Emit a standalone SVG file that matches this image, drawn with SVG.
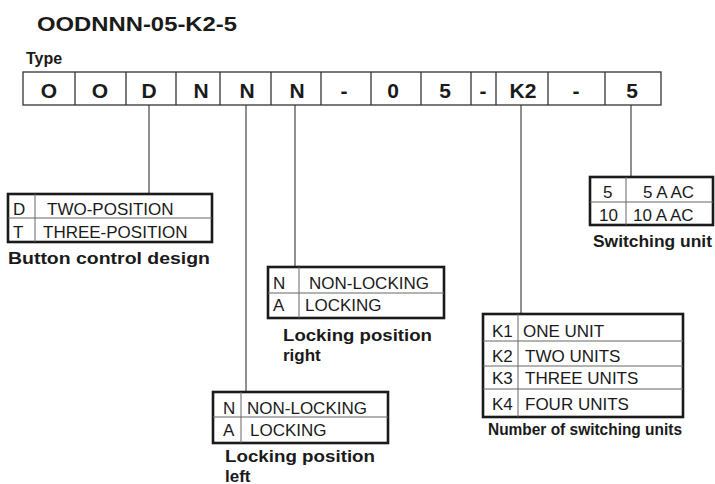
<svg xmlns="http://www.w3.org/2000/svg" width="715" height="484" viewBox="0 0 715 484">
<style>
text{font-family:"Liberation Sans",Arial,sans-serif;fill:#1a1a1a}
.t{font-size:17px}
.b{font-weight:bold}
.code{font-size:21px;font-weight:bold;text-anchor:middle}
.cap{font-size:17px;font-weight:bold}
.outer{fill:#fff;stroke:#1a1a1a;stroke-width:2.6}
.inner{stroke:#666;stroke-width:1;fill:none}
.cell{fill:#fff;stroke:#333;stroke-width:1.3}
.conn{stroke:#333;stroke-width:1.1;fill:none}
</style>
<rect width="715" height="484" fill="#fff"/>
<g id="title"><text x="37" y="31" class="b" font-size="21" textLength="200" lengthAdjust="spacingAndGlyphs">OODNNN-05-K2-5</text></g>
<g id="type-label"><text x="26" y="64" class="b" font-size="16">Type</text></g>
<g id="connectors">
<line class="conn" x1="149" y1="105" x2="149" y2="194"/>
<line class="conn" x1="246" y1="105" x2="246" y2="392"/>
<line class="conn" x1="295" y1="105" x2="295" y2="267"/>
<line class="conn" x1="521" y1="105" x2="521" y2="314"/>
<line class="conn" x1="631" y1="105" x2="631" y2="177"/>
</g>
<g id="code-row">
<rect class="cell" x="23" y="72" width="638" height="33"/>
<path class="cell" d="M75 72V105M126 72V105M176 72V105M220 72V105M271 72V105M321 72V105M371 72V105M421 72V105M471 72V105M496 72V105M548 72V105M605 72V105"/>
<text class="code" x="49" y="98">O</text>
<text class="code" x="100" y="98">O</text>
<text class="code" x="149" y="98">D</text>
<text class="code" x="201" y="98">N</text>
<text class="code" x="247" y="98">N</text>
<text class="code" x="297" y="98">N</text>
<text class="code" x="344" y="98">-</text>
<text class="code" x="393" y="98">0</text>
<text class="code" x="445" y="98">5</text>
<text class="code" x="483" y="98">-</text>
<text class="code" x="523" y="98">K2</text>
<text class="code" x="576" y="98">-</text>
<text class="code" x="632" y="98">5</text>
</g>
<g id="button-control-design">
<rect class="outer" x="8" y="194" width="204" height="48"/>
<path class="inner" d="M8 218H212M35 194V242"/>
<text class="t" x="13" y="215">D</text>
<text class="t" x="47" y="215">TWO-POSITION</text>
<text class="t" x="13" y="238">T</text>
<text class="t" x="43" y="238">THREE-POSITION</text>
<text class="cap" x="8" y="264" textLength="202" lengthAdjust="spacingAndGlyphs">Button control design</text>
</g>
<g id="locking-right">
<rect class="outer" x="268" y="267" width="176" height="51"/>
<path class="inner" d="M268 293H444M299 267V318"/>
<text class="t" x="273" y="289">N</text>
<text class="t" x="309" y="289">NON-LOCKING</text>
<text class="t" x="273" y="311">A</text>
<text class="t" x="305" y="311">LOCKING</text>
<text class="cap" x="283" y="341" textLength="149" lengthAdjust="spacingAndGlyphs">Locking position</text>
<text class="cap" x="283" y="360.5">right</text>
</g>
<g id="locking-left">
<rect class="outer" x="213" y="392" width="175" height="51"/>
<path class="inner" d="M213 417H388M241 392V443"/>
<text class="t" x="223" y="414">N</text>
<text class="t" x="247" y="414">NON-LOCKING</text>
<text class="t" x="223" y="436">A</text>
<text class="t" x="250" y="436">LOCKING</text>
<text class="cap" x="225" y="462" textLength="150" lengthAdjust="spacingAndGlyphs">Locking position</text>
<text class="cap" x="225" y="481.5">left</text>
</g>
<g id="switching-units-count">
<rect class="outer" x="483" y="314" width="200" height="103"/>
<path class="inner" d="M483 341H683M483 366H683M483 389H683M518 314V417"/>
<text class="t" x="492" y="337">K1</text>
<text class="t" x="523" y="337">ONE UNIT</text>
<text class="t" x="492" y="362">K2</text>
<text class="t" x="525" y="362">TWO UNITS</text>
<text class="t" x="492" y="384">K3</text>
<text class="t" x="525" y="384">THREE UNITS</text>
<text class="t" x="492" y="410">K4</text>
<text class="t" x="525" y="410">FOUR UNITS</text>
<text class="b" font-size="16" x="488" y="435" textLength="194" lengthAdjust="spacingAndGlyphs">Number of switching units</text>
</g>
<g id="switching-unit">
<rect class="outer" x="590" y="177" width="123" height="48"/>
<path class="inner" d="M590 202H713M626 177V225"/>
<text class="t" x="603" y="198">5</text>
<text class="t" x="643" y="198">5 A AC</text>
<text class="t" x="599" y="221">10</text>
<text class="t" x="633" y="221">10 A AC</text>
<text class="b" font-size="16" x="593" y="247" textLength="119" lengthAdjust="spacingAndGlyphs">Switching unit</text>
</g>
</svg>
